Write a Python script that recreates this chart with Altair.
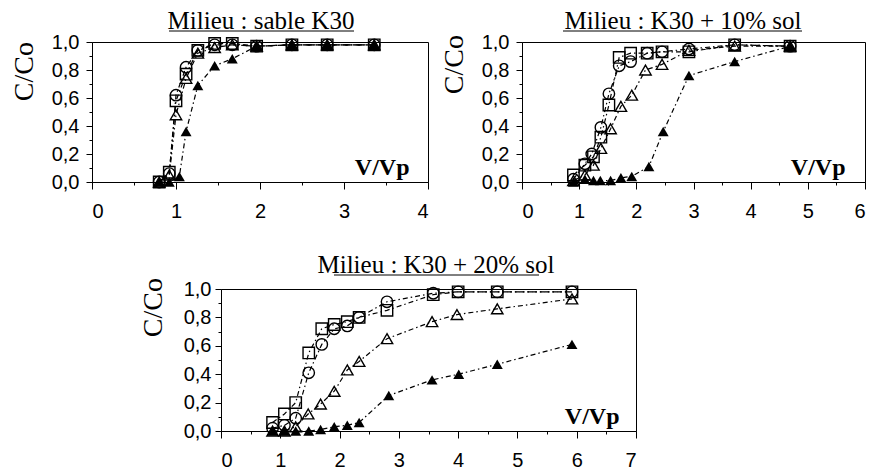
import altair as alt
import pandas as pd

# ---------------- data ----------------
# Panel 1 : Milieu : sable K30
p1_x = [0.80, 0.92, 1.00, 1.12, 1.26, 1.46, 1.67, 1.96, 2.38, 2.80, 3.36]
p1_sq = [0.00, 0.07, 0.58, 0.77, 0.94, 0.99, 0.99, 0.97, 0.98, 0.98, 0.98]
p1_ci = [0.00, 0.06, 0.62, 0.82, 0.94, 0.98, 0.98, 0.97, 0.98, 0.98, 0.98]
p1_ot = [0.00, 0.05, 0.48, 0.74, 0.92, 0.96, 0.98, 0.97, 0.98, 0.98, 0.98]
p1_fx = [0.80, 0.92, 1.04, 1.12, 1.26, 1.46, 1.67, 1.96, 2.38, 2.80, 3.36]
p1_ft = [0.00, 0.00, 0.04, 0.36, 0.69, 0.83, 0.88, 0.97, 0.98, 0.98, 0.98]

# Panel 2 : Milieu : K30 + 10% sol
p2_sqx = [0.90, 1.10, 1.25, 1.38, 1.52, 1.70, 1.90, 2.19, 2.45, 2.92, 3.72, 4.69]
p2_sq = [0.05, 0.12, 0.18, 0.32, 0.55, 0.89, 0.92, 0.92, 0.93, 0.93, 0.98, 0.97]
p2_cix = [0.90, 1.10, 1.22, 1.38, 1.52, 1.70, 1.90, 2.19, 2.45, 2.92, 3.72, 4.69]
p2_ci = [0.02, 0.13, 0.20, 0.39, 0.63, 0.83, 0.86, 0.92, 0.93, 0.95, 0.98, 0.97]
p2_otx = [0.90, 1.10, 1.25, 1.38, 1.55, 1.73, 1.92, 2.16, 2.45, 2.92, 3.72, 4.69]
p2_ot = [0.01, 0.05, 0.12, 0.24, 0.38, 0.54, 0.62, 0.80, 0.84, 0.94, 0.97, 0.97]
p2_ftx = [0.90, 1.10, 1.25, 1.37, 1.55, 1.73, 1.92, 2.22, 2.47, 2.92, 3.72, 4.69]
p2_ft = [0.00, 0.02, 0.01, 0.01, 0.01, 0.03, 0.04, 0.11, 0.36, 0.76, 0.86, 0.97]

# Panel 3 : Milieu : K30 + 20% sol
p3_x = [0.87, 1.07, 1.26, 1.48, 1.70, 1.91, 2.13, 2.33, 2.80, 3.58, 4.00, 4.66, 5.92]
p3_sq = [0.06, 0.12, 0.20, 0.55, 0.72, 0.75, 0.77, 0.80, 0.85, 0.96, 0.98, 0.98, 0.98]
p3_ci = [0.02, 0.04, 0.09, 0.41, 0.61, 0.72, 0.74, 0.80, 0.91, 0.97, 0.98, 0.98, 0.98]
p3_otx = [0.87, 1.07, 1.26, 1.47, 1.68, 1.91, 2.13, 2.33, 2.80, 3.56, 3.98, 4.66, 5.92]
p3_ot = [0.00, 0.00, 0.03, 0.12, 0.19, 0.28, 0.43, 0.49, 0.65, 0.77, 0.82, 0.86, 0.93]
p3_ftx = [0.87, 1.07, 1.26, 1.48, 1.68, 1.91, 2.13, 2.33, 2.83, 3.56, 4.01, 4.66, 5.92]
p3_ft = [0.00, 0.00, 0.00, 0.00, 0.01, 0.03, 0.04, 0.06, 0.25, 0.36, 0.40, 0.47, 0.61]

titles = ["Milieu : sable K30", "Milieu : K30 + 10% sol", "Milieu : K30 + 20% sol"]
y_ticks = [0, 0.1, 0.2, 0.3, 0.4, 0.5, 0.6, 0.7, 0.8, 0.9, 1.0]


def frame(series):
    rows = []
    for name, (xs, ys) in series.items():
        for xv, yv in zip(xs, ys):
            rows.append({"x": xv, "y": yv, "serie": name})
    return pd.DataFrame(rows)


def panel(df, xmax, width, height, title, tcx, tty, ul, yty, vvx, lpad):
    xs = alt.Scale(domain=[0, xmax], nice=False)
    ys = alt.Scale(domain=[0, 1], nice=False)
    xaxis = alt.Axis(
        values=[i * 0.5 for i in range(2 * xmax + 1)],
        labelExpr="datum.value % 1 == 0 ? format(datum.value, 'd') : ''",
        tickSize={"condition": {"test": "datum.value % 1 != 0", "value": 3}, "value": 7},
        labelPadding=12, grid=False, labelOverlap=False, labelFontSize=20,
        labelFont="Liberation Sans", title="V/Vp",
        titleX=vvx, titleY=-8, titleAlign="right", titleBaseline="alphabetic",
        titleFont="Liberation Serif", titleFontSize=24, titleFontWeight="bold",
    )
    yaxis = alt.Axis(
        values=y_ticks,
        labelExpr="round(datum.value * 10) % 2 == 0 ? replace(format(datum.value, '.1f'), '.', ',') : ''",
        tickSize={"condition": {"test": "round(datum.value * 10) % 2 != 0", "value": 3}, "value": 6},
        labelPadding=lpad, grid=False, labelOverlap=False, labelBound=False, labelFlush=False,
        labelFontSize=20, labelFont="Liberation Sans", labelSeparation=0, title=None,
    )
    X = alt.X("x:Q", scale=xs, axis=xaxis)
    Y = alt.Y("y:Q", scale=ys, axis=yaxis)
    base = alt.Chart(df)
    lines = base.mark_line(color="black", strokeWidth=1.2, strokeDash=[5, 3, 1.5, 3]).encode(
        x=X, y=Y, detail="serie:N", order="x:Q",
    )
    filled = base.transform_filter(alt.datum.serie == "triangle plein").mark_point(
        shape="triangle-up", filled=True, color="black", size=120, opacity=1
    ).encode(x=X, y=Y)
    opened = base.transform_filter(alt.datum.serie != "triangle plein").mark_point(
        filled=False, color="black", size=130, strokeWidth=1.4, opacity=1
    ).encode(
        x=X, y=Y,
        shape=alt.Shape("serie:N", scale=alt.Scale(domain=["triangle", "cercle", "carre"],
                                                    range=["triangle-up", "circle", "square"]),
                        legend=None),
    )
    one = alt.Chart(pd.DataFrame({"t": [title], "yt": ["C/Co"]}))
    ttl = one.mark_text(font="Liberation Serif", fontSize=25, baseline="alphabetic",
                        align="center", color="black").encode(
        text="t:N", x=alt.value(tcx), y=alt.value(tty))
    underline = one.mark_rule(color="black", strokeWidth=1).encode(
        x=alt.value(ul[0]), x2=alt.value(ul[1]), y=alt.value(tty + 2))
    ytitle = one.mark_text(font="Liberation Serif", fontSize=28, angle=270, align="right",
                           baseline="middle", color="black").encode(
        text="yt:N", x=alt.value(-67), y=alt.value(yty))
    return alt.layer(lines, filled, opened, ttl, underline, ytitle).properties(
        width=width, height=height)


d1 = frame({"triangle plein": (p1_fx, p1_ft), "triangle": (p1_x, p1_ot),
            "cercle": (p1_x, p1_ci), "carre": (p1_x, p1_sq)})
d2 = frame({"triangle plein": (p2_ftx, p2_ft), "triangle": (p2_otx, p2_ot),
            "cercle": (p2_cix, p2_ci), "carre": (p2_sqx, p2_sq)})
d3 = frame({"triangle plein": (p3_ftx, p3_ft), "triangle": (p3_otx, p3_ot),
            "cercle": (p3_x, p3_ci), "carre": (p3_x, p3_sq)})

c1 = panel(d1, 4, 336, 140, titles[0], 169, -13, (77, 262), 0, 317, 7)
c2 = panel(d2, 6, 343, 140, titles[1], 161, -13, (41, 280), -7, 323, 7)
c3 = panel(d3, 7, 415, 142, titles[2], 215, -16, (113, 318), -11, 398, 4)

spacer = alt.Chart(pd.DataFrame({"v": [0]})).mark_point(opacity=0).encode(
    x=alt.X("v:Q", axis=None), y=alt.Y("v:Q", axis=None)
).properties(width=129, height=10, view=alt.ViewBackground(strokeOpacity=0))

row1 = alt.hconcat(c1, c2, spacing=94, bounds="flush")
row2 = alt.hconcat(spacer, c3, spacing=0, bounds="flush")

chart = alt.vconcat(row1, row2, spacing=30).properties(
    padding={"left": 2, "top": 0, "right": 0, "bottom": 0}
).configure_view(
    stroke="black", strokeWidth=1
).configure_axis(
    domainColor="black", tickColor="black", labelColor="black", titleColor="black",
    labelFont="Liberation Sans", labelFontSize=20, domainWidth=1, tickWidth=1,
    labelOverlap=False,
)

chart.save("out.html", embed_options={"renderer": "svg", "actions": False})
